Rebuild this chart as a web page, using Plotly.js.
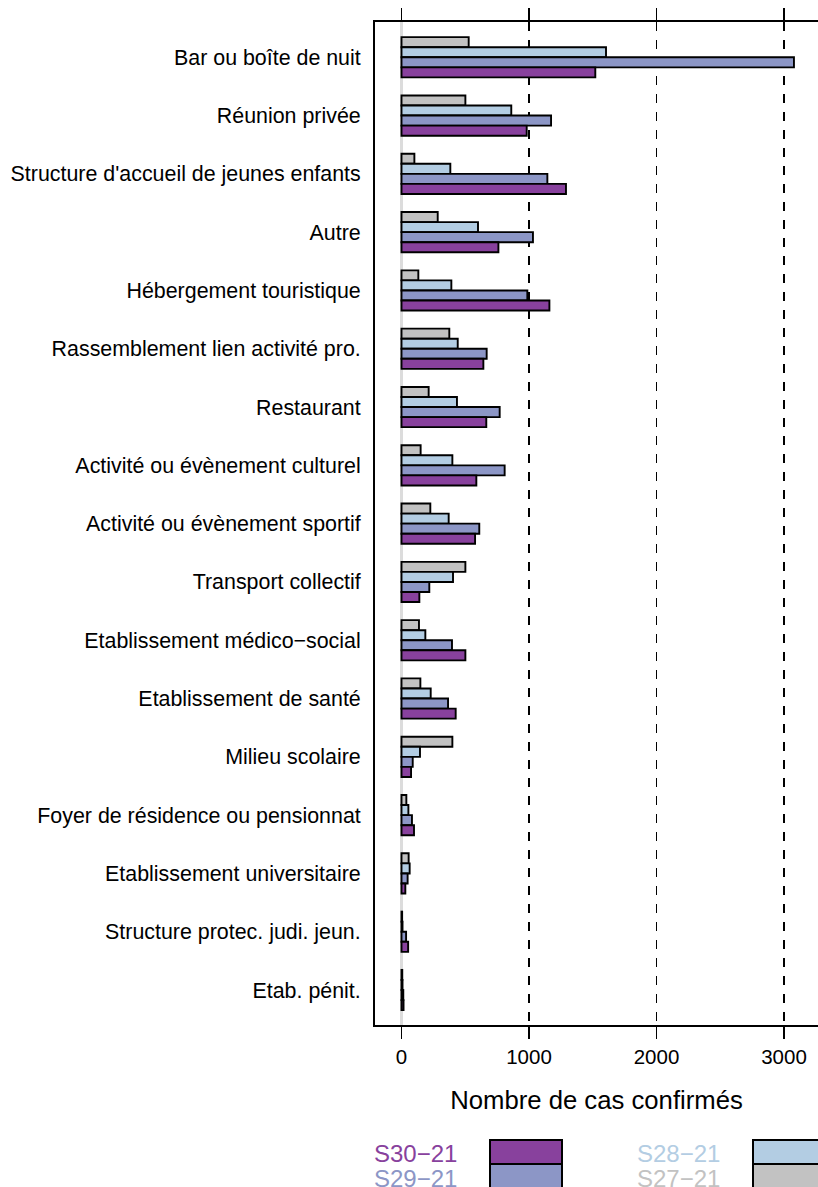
<!DOCTYPE html>
<html>
<head>
<meta charset="utf-8">
<script src="https://cdn.plot.ly/plotly-3.0.1.min.js"></script>
<style>
html,body{margin:0;padding:0;background:#fff;overflow:hidden;}
#chart{width:818px;height:1187px;}
</style>
</head>
<body>
<div id="chart"></div>
<script>
// ---- Data ----
var categories = [
  "Bar ou boîte de nuit",
  "Réunion privée",
  "Structure d'accueil de jeunes enfants",
  "Autre",
  "Hébergement touristique",
  "Rassemblement lien activité pro.",
  "Restaurant",
  "Activité ou évènement culturel",
  "Activité ou évènement sportif",
  "Transport collectif",
  "Etablissement médico\u2212social",
  "Etablissement de santé",
  "Milieu scolaire",
  "Foyer de résidence ou pensionnat",
  "Etablissement universitaire",
  "Structure protec. judi. jeun.",
  "Etab. pénit."
];
var s27 = [527, 501, 101, 284, 132, 375, 213, 150, 226, 501, 137, 148, 399, 38, 56, 5, 6];
var s28 = [1604, 861, 383, 600, 391, 441, 435, 399, 370, 404, 187, 229, 145, 54, 64, 8, 8];
var s29 = [3078, 1173, 1144, 1031, 987, 668, 770, 809, 610, 218, 396, 365, 88, 82, 48, 36, 14];
var s30 = [1520, 982, 1290, 760, 1160, 642, 665, 587, 577, 140, 501, 425, 75, 98, 30, 52, 16];
var seriesNames = ["S27\u221221", "S28\u221221", "S29\u221221", "S30\u221221"];
var seriesColors = ["#c2c2c2", "#b3cde3", "#8c96c6", "#88419d"];
var tickValues = [0, 1000, 2000, 3000];
var xTitle = "Nombre de cas confirmés";

// ---- Traces ----
var seriesValues = [s27, s28, s29, s30];
var traces = seriesValues.map(function (vals, i) {
  return {
    type: 'bar',
    orientation: 'h',
    name: seriesNames[i],
    x: vals,
    y: categories,
    marker: {color: seriesColors[i], line: {color: '#000', width: 1.9}},
    showlegend: false,
    hoverinfo: 'x+name'
  };
});

// ---- Layout helpers (pixel -> paper) ----
var W = 818, H = 1187;
var L = 375, R = 818, T = 22, B = 1025;
function px(x) { return (x - L) / (R - L); }
function py(y) { return (B - y) / (B - T); }

var font = "Liberation Sans, Arial, sans-serif";

// custom legend (two columns, stacked boxes)
var legendOrder = [3, 2, 1, 0]; // S30, S29, S28, S27
var legendCols = [{tx: 372, bx0: 490, bx1: 562}, {tx: 635, bx0: 753, bx1: 840}];
var rowY = [1140, 1164, 1190];
var annotations = [];
var shapes = [];
legendOrder.forEach(function (si, k) {
  var col = legendCols[Math.floor(k / 2)];
  var row = k % 2;
  annotations.push({
    xref: 'paper', yref: 'paper',
    x: px(col.tx), y: py((rowY[row] + rowY[row + 1]) / 2 + 1),
    xanchor: 'left', yanchor: 'middle', showarrow: false,
    text: seriesNames[si],
    font: {family: font, size: 24, color: seriesColors[si]}
  });
  shapes.push({
    type: 'rect', xref: 'paper', yref: 'paper',
    x0: px(col.bx0), x1: px(col.bx1), y0: py(rowY[row]), y1: py(rowY[row + 1]),
    fillcolor: seriesColors[si], line: {color: '#000', width: 2}
  });
});

var xr = [(L - 401.5) / 0.1275, (R - 401.5) / 0.1275];

var layout = {
  width: W, height: H,
  margin: {l: L, r: W - R, t: T, b: H - B, pad: 0},
  paper_bgcolor: '#fff', plot_bgcolor: '#fff',
  barmode: 'group', bargap: 0.31, bargroupgap: 0,
  font: {family: font, color: '#000'},
  xaxis: {
    range: xr, tickvals: tickValues, ticktext: tickValues.map(String),
    ticks: 'outside', ticklen: 12, tickwidth: 1.5, tickcolor: '#000',
    tickfont: {size: 20.5, family: font, color: '#000'},
    showline: true, linecolor: '#000', linewidth: 2,
    showgrid: true, gridcolor: '#000', griddash: 'dash', gridwidth: 1.5,
    zeroline: true, zerolinecolor: '#dcdcdc', zerolinewidth: 2.5,
    title: {text: xTitle, font: {size: 25.7, family: font, color: '#000'}, standoff: 24},
    fixedrange: true
  },
  xaxis2: {
    overlaying: 'x', side: 'top', anchor: 'y', range: xr, tickvals: tickValues,
    ticks: 'outside', ticklen: 12, tickwidth: 1.5, tickcolor: '#000',
    showticklabels: false, showline: true, linecolor: '#000', linewidth: 2,
    showgrid: false, zeroline: false
  },
  yaxis: {
    type: 'category', range: [16.6, -0.605],
    ticks: '', ticklabelstandoff: 8,
    tickfont: {size: 21.4, family: font, color: '#000'},
    showline: true, linecolor: '#000', linewidth: 2,
    showgrid: false, zeroline: false, fixedrange: true
  },
  annotations: annotations,
  shapes: shapes
};

traces.push({type: 'scatter', x: [], y: [], xaxis: 'x2', yaxis: 'y', showlegend: false, hoverinfo: 'skip'});

Plotly.newPlot('chart', traces, layout, {displayModeBar: false, staticPlot: true});
</script>
</body>
</html>
